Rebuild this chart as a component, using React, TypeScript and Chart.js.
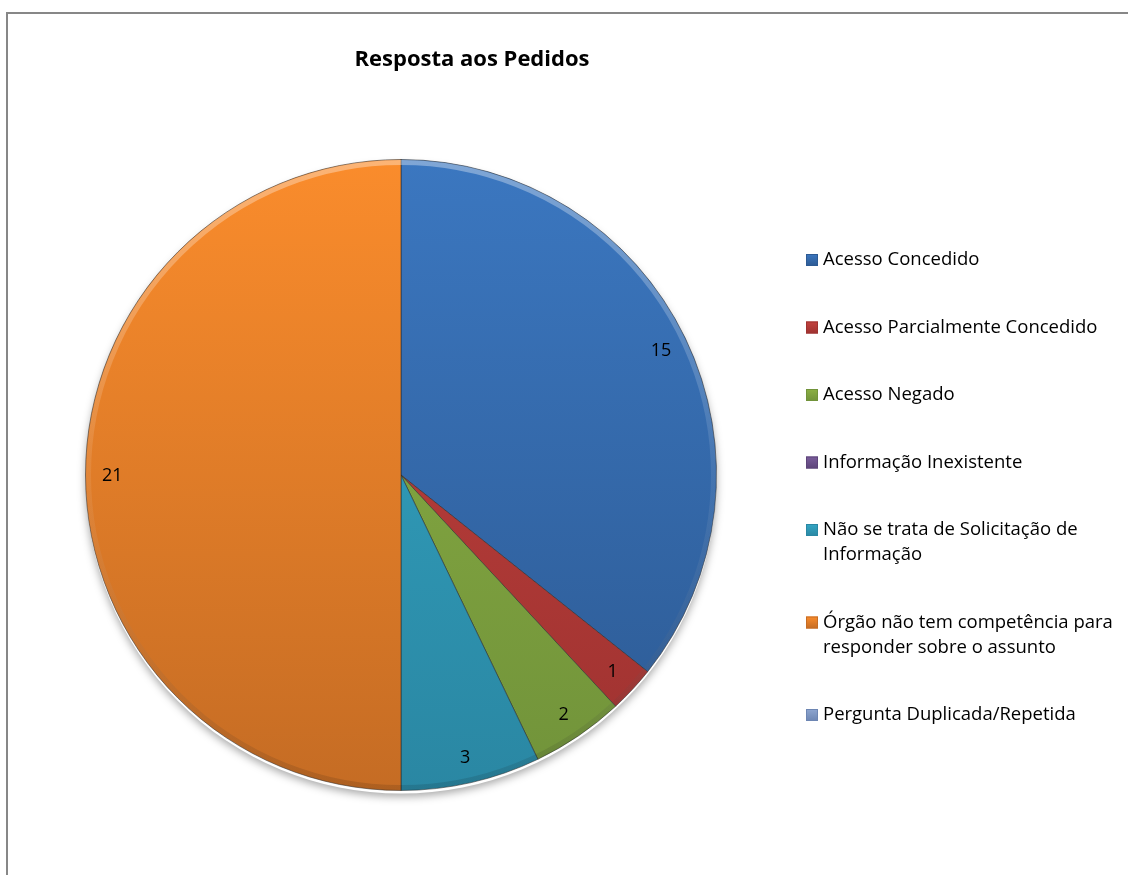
import React, { useEffect, useRef } from "react";
import { Chart, registerables } from "chart.js";

Chart.register(...registerables);

const TITLE = "Resposta aos Pedidos";
const CATEGORIES = [
  "Acesso Concedido",
  "Acesso Parcialmente Concedido",
  "Acesso Negado",
  "Informação Inexistente",
  "Não se trata de Solicitação de Informação",
  "Órgão não tem competência para responder sobre o assunto",
  "Pergunta Duplicada/Repetida",
];
const VALUES = [15, 1, 2, 0, 3, 21, 0];
const TOP_COLORS = ["#3b77c0", "#c4423e", "#8cb044", "#7a5d9c", "#33a6c4", "#fa8c2c", "#8ea6d0"];
const BOTTOM_COLORS = ["#2d5a93", "#9e3230", "#71933a", "#5d4479", "#2a87a3", "#c56c24", "#6d86b3"];

const FONT = "'Open Sans', sans-serif";

const gradFor = (ctx: CanvasRenderingContext2D, i: number, y0: number, y1: number) => {
  const g = ctx.createLinearGradient(0, y0, 0, y1);
  g.addColorStop(0, TOP_COLORS[i]);
  g.addColorStop(1, BOTTOM_COLORS[i]);
  return g;
};

const wrap = (ctx: CanvasRenderingContext2D, text: string, maxW: number) => {
  const words = text.split(" ");
  const lines: string[] = [];
  let cur = "";
  for (const w of words) {
    const t = cur ? cur + " " + w : w;
    if (ctx.measureText(t).width > maxW && cur) {
      lines.push(cur);
      cur = w;
    } else cur = t;
  }
  if (cur) lines.push(cur);
  return lines;
};

const decorPlugin = {
  id: "decor",
  beforeDatasetsDraw(chart: any) {
    const ctx = chart.ctx;
    const meta = chart.getDatasetMeta(0);
    const a = meta.data[0];
    if (!a) return;
    ctx.save();
    ctx.beginPath();
    ctx.arc(a.x, a.y + 3, a.outerRadius, 0, Math.PI * 2);
    ctx.shadowColor = "rgba(0,0,0,0.35)";
    ctx.shadowBlur = 8;
    ctx.shadowOffsetY = 3;
    ctx.fillStyle = "#ffffff";
    ctx.fill();
    ctx.restore();
  },
  afterDatasetsDraw(chart: any) {
    const ctx = chart.ctx;
    const meta = chart.getDatasetMeta(0);
    ctx.save();
    // bevel highlight on outer rim
    const a0 = meta.data[0];
    if (a0) {
      const g = ctx.createLinearGradient(0, a0.y - a0.outerRadius, 0, a0.y + a0.outerRadius);
      g.addColorStop(0, "rgba(255,255,255,0.35)");
      g.addColorStop(0.5, "rgba(255,255,255,0.08)");
      g.addColorStop(1, "rgba(0,0,0,0.12)");
      ctx.beginPath();
      ctx.arc(a0.x, a0.y, a0.outerRadius - 3, 0, Math.PI * 2);
      ctx.strokeStyle = g;
      ctx.lineWidth = 5;
      ctx.stroke();
    }
    ctx.fillStyle = "#000";
    ctx.font = `18px ${FONT}`;
    ctx.textAlign = "center";
    ctx.textBaseline = "middle";
    meta.data.forEach((arc: any, i: number) => {
      const v = VALUES[i];
      if (!v) return;
      const { startAngle, endAngle, outerRadius, x, y } = arc.getProps(
        ["startAngle", "endAngle", "outerRadius", "x", "y"],
        true
      );
      const mid = (startAngle + endAngle) / 2;
      const r = outerRadius * 0.915;
      ctx.fillText(String(v), x + Math.cos(mid) * r, y + Math.sin(mid) * r + 1);
    });

    // title
    ctx.font = `bold 22px ${FONT}`;
    ctx.fillText(TITLE, 472, 60);

    // legend
    ctx.font = `18.5px ${FONT}`;
    ctx.textAlign = "left";
    let yy = 260;
    CATEGORIES.forEach((lab, i) => {
      const lines = wrap(ctx, lab, 300);
      const mx = 806, ms = 12;
      const g = ctx.createLinearGradient(0, yy - ms / 2, 0, yy + ms / 2);
      g.addColorStop(0, TOP_COLORS[i]);
      g.addColorStop(1, BOTTOM_COLORS[i]);
      ctx.fillStyle = g;
      ctx.fillRect(mx, yy - ms / 2, ms, ms);
      ctx.strokeStyle = BOTTOM_COLORS[i];
      ctx.lineWidth = 1;
      ctx.strokeRect(mx + 0.5, yy - ms / 2 + 0.5, ms - 1, ms - 1);
      ctx.fillStyle = "#000";
      lines.forEach((ln, k) => ctx.fillText(ln, 823, yy + k * 25));
      yy += (lines.length - 1) * 25 + 67.5;
    });
    ctx.restore();
  },
};

export default function App() {
  const ref = useRef<HTMLCanvasElement | null>(null);
  useEffect(() => {
    if (!ref.current) return;
    const chart = new Chart(ref.current, {
      type: "pie",
      data: {
        labels: CATEGORIES,
        datasets: [
          {
            data: VALUES,
            backgroundColor: (c: any) => {
              const area = c.chart.chartArea;
              if (!area) return TOP_COLORS[c.dataIndex];
              return gradFor(c.chart.ctx, c.dataIndex, area.top, area.bottom);
            },
            borderColor: "rgba(40,40,40,0.55)",
            borderWidth: 1,
            hoverOffset: 0,
          },
        ],
      },
      options: {
        responsive: false,
        animation: false,
        layout: { padding: { left: 85, top: 159, right: 411, bottom: 84 } },
        plugins: {
          legend: { display: false },
          title: { display: false },
          tooltip: { enabled: false },
        },
      },
      plugins: [decorPlugin],
    });
    return () => chart.destroy();
  }, []);
  return (
    <div style={{ position: "fixed", left: 0, top: 0, width: 1128, height: 875, background: "#fff" }}>
      <div
        style={{
          position: "absolute",
          left: 6,
          top: 12,
          width: 1200,
          height: 1000,
          border: "2px solid #878787",
          boxSizing: "border-box",
        }}
      />
      <canvas ref={ref} width={1128} height={875} style={{ position: "absolute", left: 0, top: 0 }} />
    </div>
  );
}
